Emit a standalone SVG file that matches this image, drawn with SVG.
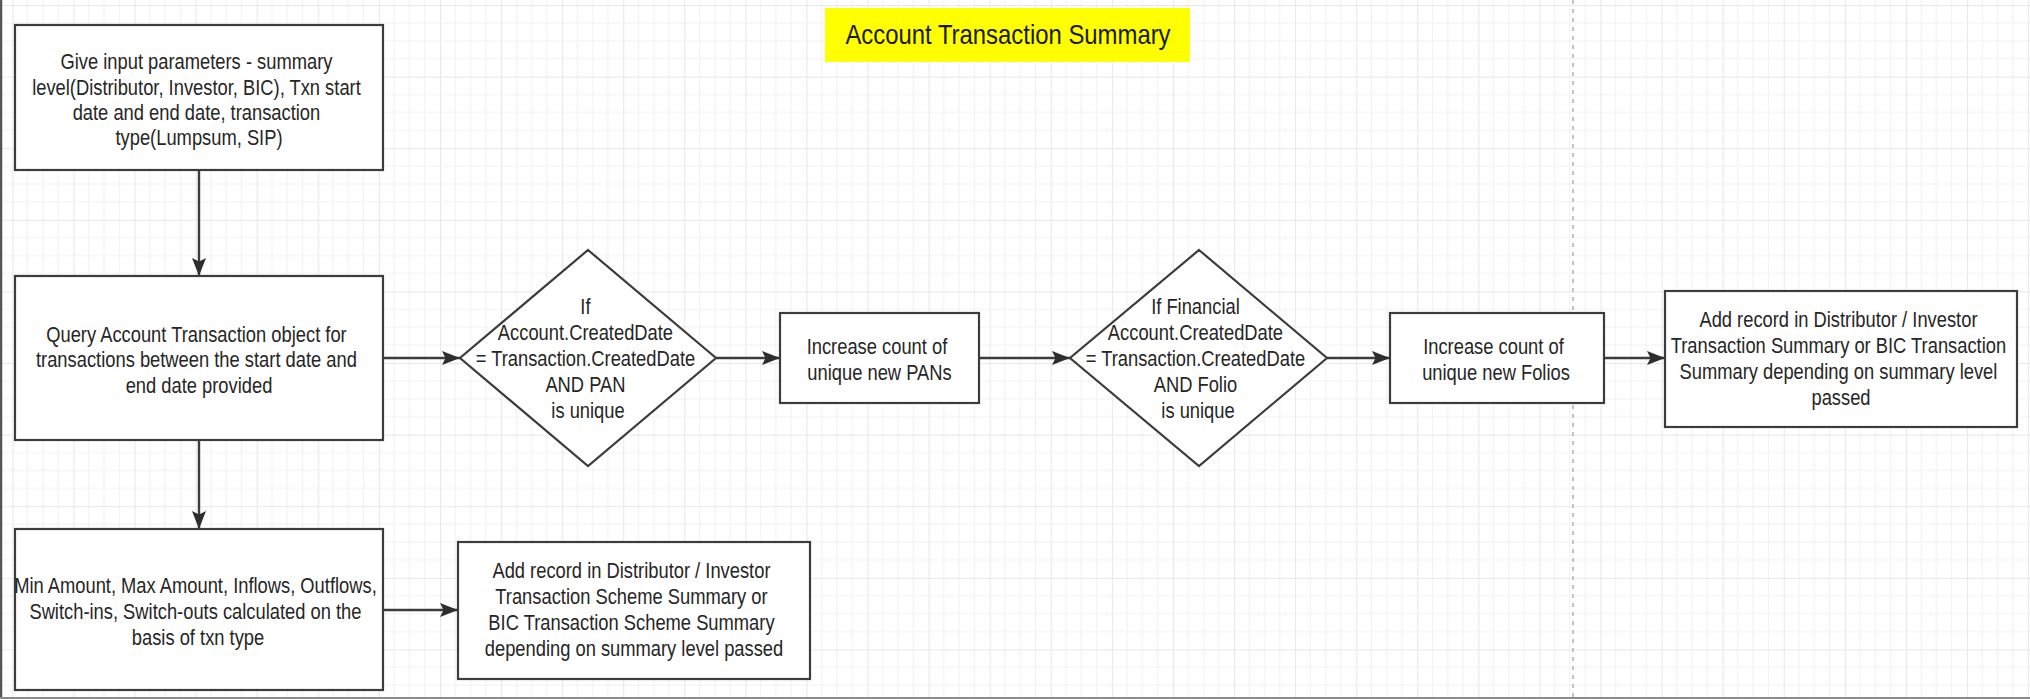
<svg xmlns="http://www.w3.org/2000/svg" width="2030" height="699" viewBox="0 0 2030 699">
<style>
.box{fill:#ffffff;stroke:#3c3c3c;stroke-width:2.2}
.t{font-family:"Liberation Sans",Arial,sans-serif;font-size:21.5px;fill:#262626;text-anchor:middle}
.title{font-family:"Liberation Sans",Arial,sans-serif;font-size:28px;fill:#1a1a1a;text-anchor:middle}
.edge{fill:none;stroke:#3c3c3c;stroke-width:2.4}
</style>
<defs>
<pattern id="grid" x="12.4" y="5" width="61.08" height="71.6" patternUnits="userSpaceOnUse">
<path d="M15.27 0V71.6M30.54 0V71.6M45.81 0V71.6M0 17.9H61.08M0 35.8H61.08M0 53.7H61.08" stroke="#f2f2f2" stroke-width="1.2" fill="none"/>
<path d="M0 0V71.6M0 0H61.08" stroke="#e8e8e8" stroke-width="2.2" fill="none"/>
</pattern>
<marker id="arr" markerUnits="userSpaceOnUse" markerWidth="20" markerHeight="16" refX="18" refY="7" orient="auto">
<path d="M0 0L18 7L0 14L3.5 7Z" fill="#2e2e2e"/>
</marker>
</defs>
<rect width="2030" height="699" fill="#ffffff"/>
<rect width="2030" height="699" fill="url(#grid)"/>
<line x1="1573" y1="0" x2="1573" y2="699" stroke="#c4c4c4" stroke-width="2" stroke-dasharray="4 5"/>
<line x1="1" y1="0" x2="1" y2="699" stroke="#555" stroke-width="2.5"/>
<line x1="0" y1="698" x2="2030" y2="698" stroke="#8a8a8a" stroke-width="2"/>

<g id="title">
<rect x="825" y="8" width="365" height="54" fill="#ffff00"/>
<text class="title" transform="translate(1008 0) scale(0.853 1)" x="0" y="44">Account Transaction Summary</text>
</g>

<g id="connectors">
<line class="edge" x1="199" y1="170" x2="199" y2="276" marker-end="url(#arr)"/>
<line class="edge" x1="383" y1="358" x2="460" y2="358" marker-end="url(#arr)"/>
<line class="edge" x1="716" y1="358" x2="780" y2="358" marker-end="url(#arr)"/>
<line class="edge" x1="979" y1="358" x2="1070" y2="358" marker-end="url(#arr)"/>
<line class="edge" x1="1327" y1="358" x2="1390" y2="358" marker-end="url(#arr)"/>
<line class="edge" x1="1604" y1="358" x2="1665" y2="358" marker-end="url(#arr)"/>
<line class="edge" x1="199" y1="440" x2="199" y2="529" marker-end="url(#arr)"/>
<line class="edge" x1="383" y1="610" x2="458" y2="610" marker-end="url(#arr)"/>
</g>

<g id="input-params">
<rect class="box" x="15" y="25" width="368" height="145"/>
<text class="t" transform="translate(199 0) scale(0.853 1)">
<tspan x="0" y="69.5">Give input parameters - summary</tspan>
<tspan x="0" y="94.8">level(Distributor, Investor, BIC), Txn start</tspan>
<tspan x="0" y="120.1">date and end date, transaction</tspan>
<tspan x="0" y="145.4">type(Lumpsum, SIP)</tspan>
</text>
</g>

<g id="query-transactions">
<rect class="box" x="15" y="276" width="368" height="164"/>
<text class="t" transform="translate(199 0) scale(0.853 1)">
<tspan x="0" y="342">Query Account Transaction object for</tspan>
<tspan x="0" y="367.5">transactions between the start date and</tspan>
<tspan x="0" y="393">end date provided</tspan>
</text>
</g>

<g id="decision-pan">
<polygon class="box" points="588,250 716,358 588,466 460,358"/>
<text class="t" transform="translate(588 0) scale(0.853 1)">
<tspan x="0" y="314.5">If</tspan>
<tspan x="0" y="340.3">Account.CreatedDate</tspan>
<tspan x="0" y="366.1">= Transaction.CreatedDate</tspan>
<tspan x="0" y="391.9">AND PAN</tspan>
<tspan x="0" y="417.7">is unique</tspan>
</text>
</g>

<g id="count-pans">
<rect class="box" x="780" y="313" width="199" height="90"/>
<text class="t" transform="translate(879.5 0) scale(0.853 1)">
<tspan x="0" y="354.5">Increase count of</tspan>
<tspan x="0" y="380">unique new PANs</tspan>
</text>
</g>

<g id="decision-folio">
<polygon class="box" points="1199,250 1327,358 1199,466 1070,358"/>
<text class="t" transform="translate(1198 0) scale(0.853 1)">
<tspan x="0" y="314.5">If Financial</tspan>
<tspan x="0" y="340.3">Account.CreatedDate</tspan>
<tspan x="0" y="366.1">= Transaction.CreatedDate</tspan>
<tspan x="0" y="391.9">AND Folio</tspan>
<tspan x="0" y="417.7">is unique</tspan>
</text>
</g>

<g id="count-folios">
<rect class="box" x="1390" y="313" width="214" height="90"/>
<text class="t" transform="translate(1496 0) scale(0.853 1)">
<tspan x="0" y="354.5">Increase count of</tspan>
<tspan x="0" y="380">unique new Folios</tspan>
</text>
</g>

<g id="add-transaction-summary">
<rect class="box" x="1665" y="291" width="352" height="136"/>
<text class="t" transform="translate(1841 0) scale(0.853 1)">
<tspan x="0" y="327.5">Add record in Distributor / Investor</tspan>
<tspan x="0" y="353.3">Transaction Summary or BIC Transaction</tspan>
<tspan x="0" y="379.1">Summary depending on summary level</tspan>
<tspan x="0" y="404.9">passed</tspan>
</text>
</g>

<g id="calc-amounts">
<rect class="box" x="15" y="529" width="368" height="161"/>
<text class="t" transform="translate(198 0) scale(0.853 1)">
<tspan x="0" y="593.5">Min Amount, Max Amount, Inflows, Outflows,</tspan>
<tspan x="0" y="619.3">Switch-ins, Switch-outs calculated on the</tspan>
<tspan x="0" y="645.1">basis of txn type</tspan>
</text>
</g>

<g id="add-scheme-summary">
<rect class="box" x="458" y="542" width="352" height="137"/>
<text class="t" transform="translate(634 0) scale(0.853 1)">
<tspan x="0" y="578.5">Add record in Distributor / Investor</tspan>
<tspan x="0" y="604.3">Transaction Scheme Summary or</tspan>
<tspan x="0" y="630.1">BIC Transaction Scheme Summary</tspan>
<tspan x="0" y="655.9">depending on summary level passed</tspan>
</text>
</g>
</svg>
